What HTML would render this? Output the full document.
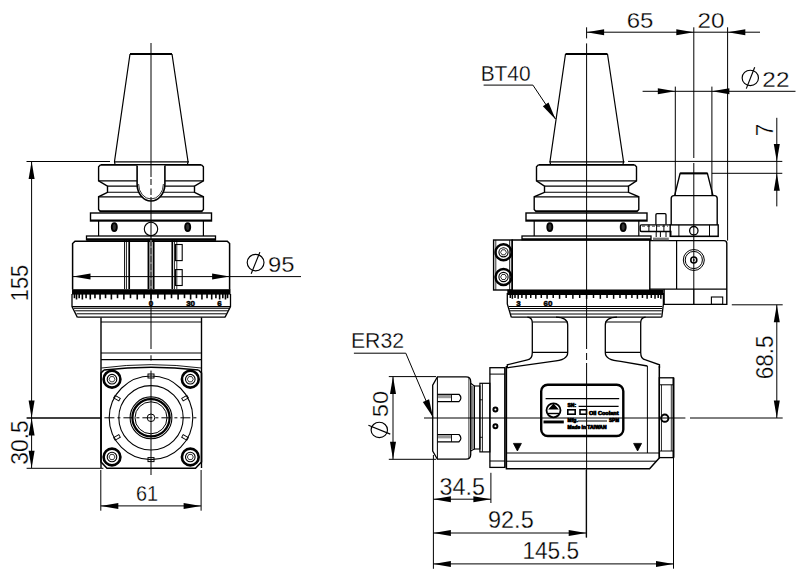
<!DOCTYPE html>
<html><head><meta charset="utf-8"><style>
html,body{margin:0;padding:0;background:#fff;}
svg{display:block;}
text{font-family:"Liberation Sans",sans-serif;fill:#111;stroke:none;}
text.big{fill:#000;stroke:#fff;stroke-width:0.3px;}
text.sm{fill:#000;stroke:#000;stroke-width:0.5px;}
text.lb{fill:#000;stroke:#000;stroke-width:0.7px;}
</style></head><body>
<svg width="807" height="574" viewBox="0 0 807 574" stroke="#000" stroke-linecap="butt">
<rect x="0" y="0" width="807" height="574" fill="#fff" stroke="none"/>
<path d="M130,54 L172,54" stroke-width="2.2" fill="none" />
<polyline points="130.00,54.00 114.50,161.50 115.00,164.50" stroke-width="1.2" fill="none" />
<polyline points="172.00,54.00 188.00,161.50 187.50,164.50" stroke-width="1.2" fill="none" />
<line x1="114.00" y1="161.80" x2="189.00" y2="161.80" stroke-width="1.2" />
<polyline points="100.60,164.80 98.60,166.80 98.60,180.80 107.50,186.10 107.50,192.30 98.60,196.80 98.60,209.50 100.10,211.30" stroke-width="1.4" fill="none" />
<polyline points="201.40,164.80 203.40,166.80 203.40,180.80 194.50,186.10 194.50,192.30 203.40,196.80 203.40,209.50 201.90,211.30" stroke-width="1.4" fill="none" />
<line x1="100.60" y1="164.80" x2="201.40" y2="164.80" stroke-width="1.7" />
<line x1="98.60" y1="180.80" x2="203.40" y2="180.80" stroke-width="1.2" />
<line x1="107.50" y1="186.10" x2="194.50" y2="186.10" stroke-width="1.1" />
<line x1="107.50" y1="192.30" x2="194.50" y2="192.30" stroke-width="1.1" />
<line x1="98.60" y1="196.80" x2="203.40" y2="196.80" stroke-width="1.2" />
<line x1="99.60" y1="211.30" x2="202.40" y2="211.30" stroke-width="2.0" />
<rect x="90.50" y="213.00" width="121.00" height="8.00" rx="0" stroke-width="1.4" fill="none"/>
<line x1="90.50" y1="220.30" x2="211.50" y2="220.30" stroke-width="1.6" />
<line x1="98.60" y1="221.00" x2="98.60" y2="236.00" stroke-width="1.2" />
<line x1="203.40" y1="221.00" x2="203.40" y2="236.00" stroke-width="1.2" />
<ellipse cx="114.30" cy="227.10" rx="2.50" ry="4.00" stroke-width="1.9" fill="#333"/>
<ellipse cx="187.70" cy="227.10" rx="2.50" ry="4.00" stroke-width="1.9" fill="#333"/>
<rect x="86.50" y="236.00" width="129.00" height="3.80" rx="0" stroke-width="1.3" fill="none"/>
<line x1="86.50" y1="239.20" x2="215.50" y2="239.20" stroke-width="1.8" />
<path d="M137.1,165.5 L137.1,184 A13.9,17 0 0 0 164.9,184 L164.9,165.5" stroke-width="1.6" fill="#fff" />
<path d="M138.6,184 A12.4,15 0 0 0 163.4,184" stroke-width="0.8" fill="none" />
<circle cx="151.00" cy="229.00" r="6.70" stroke-width="1.1" fill="none"/>
<path d="M565.5,54 L607.5,54" stroke-width="2.2" fill="none" />
<polyline points="565.50,54.00 550.00,161.50 550.50,164.50" stroke-width="1.2" fill="none" />
<polyline points="607.50,54.00 623.50,161.50 623.00,164.50" stroke-width="1.2" fill="none" />
<line x1="549.50" y1="161.80" x2="624.50" y2="161.80" stroke-width="1.2" />
<polyline points="538.50,164.80 536.50,166.80 536.50,180.80 544.50,186.10 544.50,192.30 534.20,196.80 534.20,209.50 535.70,211.30" stroke-width="1.4" fill="none" />
<polyline points="634.50,164.80 636.50,166.80 636.50,180.80 628.50,186.10 628.50,192.30 638.80,196.80 638.80,209.50 637.30,211.30" stroke-width="1.4" fill="none" />
<line x1="538.50" y1="164.80" x2="634.50" y2="164.80" stroke-width="1.7" />
<line x1="536.50" y1="180.80" x2="636.50" y2="180.80" stroke-width="1.2" />
<line x1="544.50" y1="186.10" x2="628.50" y2="186.10" stroke-width="1.1" />
<line x1="544.50" y1="192.30" x2="628.50" y2="192.30" stroke-width="1.1" />
<line x1="534.20" y1="196.80" x2="638.80" y2="196.80" stroke-width="1.2" />
<line x1="535.20" y1="211.30" x2="637.80" y2="211.30" stroke-width="2.0" />
<rect x="526.00" y="213.00" width="121.00" height="8.00" rx="0" stroke-width="1.4" fill="none"/>
<line x1="526.00" y1="220.30" x2="647.00" y2="220.30" stroke-width="1.6" />
<line x1="534.20" y1="221.00" x2="534.20" y2="236.00" stroke-width="1.2" />
<line x1="638.80" y1="221.00" x2="638.80" y2="236.00" stroke-width="1.2" />
<ellipse cx="549.80" cy="227.10" rx="2.50" ry="4.00" stroke-width="1.9" fill="#333"/>
<ellipse cx="623.20" cy="227.10" rx="2.50" ry="4.00" stroke-width="1.9" fill="#333"/>
<rect x="522.00" y="236.00" width="129.00" height="3.80" rx="0" stroke-width="1.3" fill="none"/>
<line x1="522.00" y1="239.20" x2="651.00" y2="239.20" stroke-width="1.8" />
<line x1="151.00" y1="43.00" x2="151.00" y2="177.00" stroke-width="1" />
<line x1="151.00" y1="179.00" x2="151.00" y2="185.00" stroke-width="1" />
<line x1="151.00" y1="188.50" x2="151.00" y2="195.00" stroke-width="1" />
<line x1="151.00" y1="197.00" x2="151.00" y2="349.00" stroke-width="1" />
<line x1="151.00" y1="355.30" x2="151.00" y2="360.60" stroke-width="1" />
<line x1="151.00" y1="370.60" x2="151.00" y2="475.00" stroke-width="1" />
<path d="M72.6,289.5 L72.6,243.5 L75,241.2 L227.3,241.2 L229.6,243.5 L229.6,289.5" stroke-width="1.5" fill="none" />
<line x1="86.50" y1="240.80" x2="216.00" y2="240.80" stroke-width="1.2" />
<line x1="124.50" y1="240.00" x2="124.50" y2="289.00" stroke-width="0.9" />
<line x1="126.40" y1="240.00" x2="126.40" y2="289.00" stroke-width="0.9" />
<line x1="129.20" y1="240.00" x2="129.20" y2="289.00" stroke-width="1.7" />
<line x1="148.50" y1="240.00" x2="148.50" y2="289.00" stroke-width="1.9" />
<line x1="153.60" y1="240.00" x2="153.60" y2="289.00" stroke-width="1.9" />
<line x1="172.30" y1="240.00" x2="172.30" y2="289.00" stroke-width="1.7" />
<line x1="174.50" y1="240.00" x2="174.50" y2="289.00" stroke-width="0.8" />
<line x1="176.80" y1="240.00" x2="176.80" y2="289.00" stroke-width="0.8" />
<line x1="151" y1="240" x2="151" y2="289" stroke="#555" stroke-width="2" stroke-dasharray="6,2"/>
<rect x="175.50" y="244.50" width="6.70" height="16.10" rx="0" stroke-width="1.1" fill="none"/>
<rect x="175.50" y="269.60" width="6.70" height="15.90" rx="0" stroke-width="1.1" fill="none"/>
<line x1="73.00" y1="276.60" x2="301.00" y2="276.60" stroke-width="1" />
<polygon points="73.00,276.60 90.50,273.60 90.50,279.60" fill="#000" stroke="none"/>
<polygon points="229.60,276.60 212.10,273.60 212.10,279.60" fill="#000" stroke="none"/>
<ellipse cx="255.60" cy="262.60" rx="8.40" ry="8.25" stroke-width="1.15" fill="none"/>
<line x1="259.90" y1="252.10" x2="251.20" y2="273.80" stroke-width="1.15" />
<text x="267.90" y="272.17" font-size="22.88" textLength="26.50" lengthAdjust="spacingAndGlyphs" class="big">95</text>
<rect x="72.00" y="289.20" width="158.50" height="5.40" rx="0" stroke-width="0" fill="#000"/>
<line x1="74.45" y1="293.80" x2="74.45" y2="298.20" stroke-width="1.6" />
<line x1="76.53" y1="293.80" x2="76.53" y2="299.50" stroke-width="1.6" />
<line x1="79.18" y1="293.80" x2="79.18" y2="298.20" stroke-width="1.6" />
<line x1="82.37" y1="293.80" x2="82.37" y2="299.50" stroke-width="1.6" />
<line x1="86.08" y1="293.80" x2="86.08" y2="298.20" stroke-width="1.6" />
<line x1="90.29" y1="293.80" x2="90.29" y2="299.50" stroke-width="1.6" />
<line x1="94.96" y1="293.80" x2="94.96" y2="298.20" stroke-width="1.6" />
<line x1="100.06" y1="293.80" x2="100.06" y2="299.50" stroke-width="1.6" />
<line x1="105.54" y1="293.80" x2="105.54" y2="298.20" stroke-width="1.6" />
<line x1="111.38" y1="293.80" x2="111.38" y2="299.50" stroke-width="1.6" />
<line x1="117.51" y1="293.80" x2="117.51" y2="298.20" stroke-width="1.6" />
<line x1="123.89" y1="293.80" x2="123.89" y2="299.50" stroke-width="1.6" />
<line x1="130.49" y1="293.80" x2="130.49" y2="298.20" stroke-width="1.6" />
<line x1="137.24" y1="293.80" x2="137.24" y2="299.50" stroke-width="1.6" />
<line x1="144.09" y1="293.80" x2="144.09" y2="298.20" stroke-width="1.6" />
<line x1="151.00" y1="293.80" x2="151.00" y2="299.50" stroke-width="1.6" />
<line x1="157.91" y1="293.80" x2="157.91" y2="298.20" stroke-width="1.6" />
<line x1="164.76" y1="293.80" x2="164.76" y2="299.50" stroke-width="1.6" />
<line x1="171.51" y1="293.80" x2="171.51" y2="298.20" stroke-width="1.6" />
<line x1="178.11" y1="293.80" x2="178.11" y2="299.50" stroke-width="1.6" />
<line x1="184.49" y1="293.80" x2="184.49" y2="298.20" stroke-width="1.6" />
<line x1="190.62" y1="293.80" x2="190.62" y2="299.50" stroke-width="1.6" />
<line x1="196.46" y1="293.80" x2="196.46" y2="298.20" stroke-width="1.6" />
<line x1="201.94" y1="293.80" x2="201.94" y2="299.50" stroke-width="1.6" />
<line x1="207.04" y1="293.80" x2="207.04" y2="298.20" stroke-width="1.6" />
<line x1="211.71" y1="293.80" x2="211.71" y2="299.50" stroke-width="1.6" />
<line x1="215.92" y1="293.80" x2="215.92" y2="298.20" stroke-width="1.6" />
<line x1="219.63" y1="293.80" x2="219.63" y2="299.50" stroke-width="1.6" />
<line x1="222.82" y1="293.80" x2="222.82" y2="298.20" stroke-width="1.6" />
<line x1="225.47" y1="293.80" x2="225.47" y2="299.50" stroke-width="1.6" />
<line x1="227.55" y1="293.80" x2="227.55" y2="298.20" stroke-width="1.6" />
<text x="151" y="306.3" font-size="8" text-anchor="middle" font-weight="bold" class="sm">0</text>
<text x="190.6" y="306.3" font-size="8" text-anchor="middle" font-weight="bold" class="sm">30</text>
<text x="219.5" y="306.3" font-size="8" text-anchor="middle" font-weight="bold" class="sm">6</text>
<polyline points="72.00,294.00 72.00,306.60 77.40,317.40" stroke-width="1.3" fill="none" />
<polyline points="230.50,294.00 230.50,306.60 225.00,317.40" stroke-width="1.3" fill="none" />
<line x1="72.00" y1="306.60" x2="230.50" y2="306.60" stroke-width="1.2" />
<line x1="73.85" y1="308.30" x2="229.15" y2="308.30" stroke-width="1.0" />
<line x1="75.10" y1="310.80" x2="227.90" y2="310.80" stroke-width="1.0" />
<line x1="76.60" y1="313.80" x2="226.40" y2="313.80" stroke-width="1.0" />
<line x1="77.40" y1="317.20" x2="225.00" y2="317.20" stroke-width="1.3" />
<line x1="101.00" y1="317.40" x2="101.00" y2="468.00" stroke-width="1.4" />
<line x1="201.50" y1="317.40" x2="201.50" y2="468.00" stroke-width="1.4" />
<line x1="101.00" y1="322.00" x2="201.50" y2="322.00" stroke-width="1.2" />
<line x1="101.00" y1="353.00" x2="201.50" y2="353.00" stroke-width="1.0" />
<line x1="101.00" y1="359.70" x2="201.50" y2="359.70" stroke-width="1.2" />
<path d="M101.4,368 Q151,361.3 201.2,368" stroke-width="0.9" fill="none" />
<path d="M104,370 Q151,364.5 198.5,370" stroke-width="1.6" fill="none" />
<polyline points="104.00,370.00 101.00,373.00 101.00,462.00 107.00,468.30 195.50,468.30 201.50,462.00 201.50,373.00 198.50,370.00" stroke-width="1.6" fill="none" />
<circle cx="112.00" cy="379.20" r="8.40" stroke-width="2.6" fill="none"/>
<circle cx="112.00" cy="379.20" r="4.80" stroke-width="1.1" fill="none"/>
<polygon points="115.00,379.20 113.50,381.80 110.50,381.80 109.00,379.20 110.50,376.60 113.50,376.60" stroke-width="0.8" fill="none" />
<circle cx="190.30" cy="379.20" r="8.40" stroke-width="2.6" fill="none"/>
<circle cx="190.30" cy="379.20" r="4.80" stroke-width="1.1" fill="none"/>
<polygon points="193.30,379.20 191.80,381.80 188.80,381.80 187.30,379.20 188.80,376.60 191.80,376.60" stroke-width="0.8" fill="none" />
<circle cx="112.00" cy="457.00" r="8.40" stroke-width="2.6" fill="none"/>
<circle cx="112.00" cy="457.00" r="4.80" stroke-width="1.1" fill="none"/>
<polygon points="115.00,457.00 113.50,459.60 110.50,459.60 109.00,457.00 110.50,454.40 113.50,454.40" stroke-width="0.8" fill="none" />
<circle cx="190.30" cy="457.00" r="8.40" stroke-width="2.6" fill="none"/>
<circle cx="190.30" cy="457.00" r="4.80" stroke-width="1.1" fill="none"/>
<polygon points="193.30,457.00 191.80,459.60 188.80,459.60 187.30,457.00 188.80,454.40 191.80,454.40" stroke-width="0.8" fill="none" />
<circle cx="151.00" cy="417.80" r="41.80" stroke-width="1.1" fill="none"/>
<circle cx="151.00" cy="417.80" r="32.20" stroke-width="1.1" fill="none"/>
<circle cx="151.00" cy="417.80" r="20.90" stroke-width="1.1" fill="none"/>
<circle cx="151.00" cy="417.80" r="18.60" stroke-width="2.2" fill="none"/>
<circle cx="151.00" cy="417.80" r="16.00" stroke-width="1.0" fill="none"/>
<circle cx="151.00" cy="417.80" r="3.80" stroke-width="1.0" fill="none"/>
<rect x="148.00" y="374.00" width="6.00" height="4.00" rx="0" stroke-width="1.0" fill="none"/>
<rect x="148.00" y="457.60" width="6.00" height="4.00" rx="0" stroke-width="1.0" fill="none"/>
<rect x="183.53" y="395.15" width="3" height="6" stroke-width="0.9" fill="none" transform="rotate(240.0 185.03 398.15)"/>
<rect x="115.47" y="395.15" width="3" height="6" stroke-width="0.9" fill="none" transform="rotate(120.0 116.97 398.15)"/>
<rect x="115.47" y="434.45" width="3" height="6" stroke-width="0.9" fill="none" transform="rotate(60.0 116.97 437.45)"/>
<rect x="183.53" y="434.45" width="3" height="6" stroke-width="0.9" fill="none" transform="rotate(-60.0 185.03 437.45)"/>
<line x1="104.40" y1="417.80" x2="197.50" y2="417.80" stroke-width="1" stroke-dasharray="10,3,3,3"/>
<line x1="26.50" y1="161.50" x2="110.00" y2="161.50" stroke-width="1" />
<line x1="31.60" y1="161.50" x2="31.60" y2="468.00" stroke-width="1" />
<polygon points="31.60,161.50 28.60,179.00 34.60,179.00" fill="#000" stroke="none"/>
<polygon points="31.60,418.00 28.60,400.50 34.60,400.50" fill="#000" stroke="none"/>
<text x="27.86" y="301.15" font-size="24.07" textLength="36.17" lengthAdjust="spacingAndGlyphs" class="big" transform="rotate(-90 27.86 301.15)">155</text>
<line x1="26.60" y1="418.00" x2="101.00" y2="418.00" stroke-width="1.6" />
<polygon points="31.60,418.00 28.60,435.50 34.60,435.50" fill="#000" stroke="none"/>
<polygon points="31.60,468.30 28.60,450.80 34.60,450.80" fill="#000" stroke="none"/>
<line x1="26.60" y1="468.30" x2="103.40" y2="468.30" stroke-width="1" />
<text x="27.76" y="464.77" font-size="23.73" textLength="44.54" lengthAdjust="spacingAndGlyphs" class="big" transform="rotate(-90 27.76 464.77)">30.5</text>
<line x1="100.80" y1="470.00" x2="100.80" y2="510.70" stroke-width="1" />
<line x1="201.10" y1="470.00" x2="201.10" y2="510.70" stroke-width="1" />
<line x1="100.80" y1="505.90" x2="201.10" y2="505.90" stroke-width="1" />
<polygon points="100.80,505.90 118.30,502.90 118.30,508.90" fill="#000" stroke="none"/>
<polygon points="201.10,505.90 183.60,502.90 183.60,508.90" fill="#000" stroke="none"/>
<text x="136.06" y="501.27" font-size="22.88" textLength="22.10" lengthAdjust="spacingAndGlyphs" class="big">61</text>
<line x1="586.60" y1="27.30" x2="586.60" y2="38.40" stroke-width="1" />
<line x1="586.60" y1="43.40" x2="586.60" y2="349.00" stroke-width="1" />
<line x1="586.60" y1="353.00" x2="586.60" y2="360.00" stroke-width="1" />
<line x1="586.60" y1="363.00" x2="586.60" y2="537.50" stroke-width="1" />
<path d="M512.2,290 L512.2,240 L649.8,240 L649.8,290" stroke-width="1.4" fill="none" />
<rect x="493.60" y="240.00" width="18.60" height="50.00" rx="0" stroke-width="1.4" fill="none"/>
<line x1="509.70" y1="240.00" x2="509.70" y2="290.00" stroke-width="0.9" />
<line x1="495.80" y1="240.00" x2="495.80" y2="290.00" stroke-width="0.8" />
<circle cx="503.50" cy="252.30" r="8.00" stroke-width="2.4" fill="none"/>
<circle cx="503.50" cy="252.30" r="4.60" stroke-width="1.1" fill="none"/>
<polygon points="506.40,252.30 504.95,254.81 502.05,254.81 500.60,252.30 502.05,249.79 504.95,249.79" stroke-width="0.8" fill="none" />
<circle cx="503.50" cy="277.00" r="8.00" stroke-width="2.4" fill="none"/>
<circle cx="503.50" cy="277.00" r="4.60" stroke-width="1.1" fill="none"/>
<polygon points="506.40,277.00 504.95,279.51 502.05,279.51 500.60,277.00 502.05,274.49 504.95,274.49" stroke-width="0.8" fill="none" />
<path d="M649.8,240.6 L724,240.6 Q726.8,240.6 726.8,243.4 L726.8,304.4 L664.1,304.4 L664.1,289.1" stroke-width="1.4" fill="none" />
<line x1="676.60" y1="240.60" x2="676.60" y2="289.10" stroke-width="1.2" />
<line x1="649.80" y1="289.10" x2="726.80" y2="289.10" stroke-width="1.2" />
<circle cx="693.80" cy="260.00" r="10.50" stroke-width="1.0" fill="none"/>
<circle cx="693.80" cy="260.00" r="8.60" stroke-width="1.0" fill="none"/>
<circle cx="693.80" cy="260.00" r="3.00" stroke-width="1.6" fill="none"/>
<circle cx="693.80" cy="260.00" r="1.00" stroke-width="0" fill="#333"/>
<rect x="711.40" y="297.00" width="11.30" height="7.40" rx="0" stroke-width="1.1" fill="none"/>
<line x1="693.80" y1="289.10" x2="693.80" y2="304.40" stroke-width="1" />
<rect x="670.20" y="224.90" width="48.00" height="11.50" rx="0" stroke-width="1.4" fill="none"/>
<line x1="678.90" y1="224.90" x2="678.90" y2="236.40" stroke-width="1" />
<line x1="709.50" y1="224.90" x2="709.50" y2="236.40" stroke-width="1" />
<circle cx="693.80" cy="230.70" r="4.20" stroke-width="1.3" fill="none"/>
<path d="M671.2,224.9 L671.2,198.5 Q671.2,195.6 674,195.6 L714.4,195.6 Q717.2,195.6 717.2,198.5 L717.2,224.9" stroke-width="1.4" fill="none" />
<path d="M674.6,195.6 L680.1,173.4 L707.4,173.4 L713,195.6" stroke-width="1.4" fill="none" />
<line x1="680.10" y1="173.40" x2="707.40" y2="173.40" stroke-width="2.0" />
<line x1="670.20" y1="236.40" x2="718.20" y2="236.40" stroke-width="1.4" />
<path d="M655.9,224.5 L655.9,214.7 Q655.9,213.7 657,213.7 L665,213.7 Q666,213.7 666,214.7 L666,224.5" stroke-width="1.3" fill="none" />
<path d="M670.8,224.9 L641.5,224.9 Q640.2,224.9 640.2,226.5 L640.2,230 Q640.2,231.5 641.5,231.5 L670.8,231.5 L670.8,235.7" stroke-width="1.4" fill="none" />
<line x1="648.90" y1="224.90" x2="648.90" y2="231.50" stroke-width="1.0" />
<line x1="656.60" y1="224.90" x2="656.60" y2="231.50" stroke-width="1.0" />
<line x1="663.90" y1="224.90" x2="663.90" y2="231.50" stroke-width="1.0" />
<line x1="642.00" y1="226.20" x2="668.00" y2="226.20" stroke-width="0.7" stroke-dasharray="3,2"/>
<line x1="656.20" y1="231.50" x2="656.20" y2="237.00" stroke-width="1.0" />
<line x1="660.40" y1="231.50" x2="660.40" y2="237.00" stroke-width="1.0" />
<line x1="666.00" y1="231.50" x2="666.00" y2="237.00" stroke-width="1.0" />
<rect x="653" y="237.6" width="15.8" height="2.6" fill="#777" stroke="none"/>
<rect x="507.30" y="289.50" width="156.10" height="5.50" rx="0" stroke-width="0" fill="#000"/>
<line x1="510.29" y1="295.00" x2="510.29" y2="298.00" stroke-width="1.5" />
<line x1="512.36" y1="295.00" x2="512.36" y2="298.80" stroke-width="1.5" />
<line x1="515.00" y1="295.00" x2="515.00" y2="298.00" stroke-width="1.5" />
<line x1="518.18" y1="295.00" x2="518.18" y2="298.80" stroke-width="1.5" />
<line x1="521.89" y1="295.00" x2="521.89" y2="298.00" stroke-width="1.5" />
<line x1="526.08" y1="295.00" x2="526.08" y2="298.80" stroke-width="1.5" />
<line x1="530.74" y1="295.00" x2="530.74" y2="298.00" stroke-width="1.5" />
<line x1="535.82" y1="295.00" x2="535.82" y2="298.80" stroke-width="1.5" />
<line x1="541.29" y1="295.00" x2="541.29" y2="298.00" stroke-width="1.5" />
<line x1="547.10" y1="295.00" x2="547.10" y2="298.80" stroke-width="1.5" />
<line x1="553.21" y1="295.00" x2="553.21" y2="298.00" stroke-width="1.5" />
<line x1="559.58" y1="295.00" x2="559.58" y2="298.80" stroke-width="1.5" />
<line x1="566.15" y1="295.00" x2="566.15" y2="298.00" stroke-width="1.5" />
<line x1="572.88" y1="295.00" x2="572.88" y2="298.80" stroke-width="1.5" />
<line x1="579.71" y1="295.00" x2="579.71" y2="298.00" stroke-width="1.5" />
<line x1="586.60" y1="295.00" x2="586.60" y2="298.80" stroke-width="1.5" />
<line x1="593.49" y1="295.00" x2="593.49" y2="298.00" stroke-width="1.5" />
<line x1="600.32" y1="295.00" x2="600.32" y2="298.80" stroke-width="1.5" />
<line x1="607.05" y1="295.00" x2="607.05" y2="298.00" stroke-width="1.5" />
<line x1="613.62" y1="295.00" x2="613.62" y2="298.80" stroke-width="1.5" />
<line x1="619.99" y1="295.00" x2="619.99" y2="298.00" stroke-width="1.5" />
<line x1="626.10" y1="295.00" x2="626.10" y2="298.80" stroke-width="1.5" />
<line x1="631.91" y1="295.00" x2="631.91" y2="298.00" stroke-width="1.5" />
<line x1="637.38" y1="295.00" x2="637.38" y2="298.80" stroke-width="1.5" />
<line x1="642.46" y1="295.00" x2="642.46" y2="298.00" stroke-width="1.5" />
<line x1="647.12" y1="295.00" x2="647.12" y2="298.80" stroke-width="1.5" />
<line x1="651.31" y1="295.00" x2="651.31" y2="298.00" stroke-width="1.5" />
<line x1="655.02" y1="295.00" x2="655.02" y2="298.80" stroke-width="1.5" />
<line x1="658.20" y1="295.00" x2="658.20" y2="298.00" stroke-width="1.5" />
<line x1="660.84" y1="295.00" x2="660.84" y2="298.80" stroke-width="1.5" />
<text x="518.6" y="306.3" font-size="8" text-anchor="middle" font-weight="bold" class="sm">3</text>
<text x="548" y="306.3" font-size="8" text-anchor="middle" font-weight="bold" class="sm">60</text>
<polyline points="507.30,293.00 507.30,304.00 511.30,317.20" stroke-width="1.3" fill="none" />
<polyline points="663.40,293.00 663.40,304.00 661.80,317.20" stroke-width="1.3" fill="none" />
<line x1="508.75" y1="306.50" x2="662.25" y2="306.50" stroke-width="1.0" />
<line x1="509.35" y1="308.50" x2="662.05" y2="308.50" stroke-width="1.0" />
<line x1="510.04" y1="310.80" x2="661.82" y2="310.80" stroke-width="1.0" />
<line x1="511.00" y1="314.00" x2="661.50" y2="314.00" stroke-width="1.0" />
<line x1="511.30" y1="317.20" x2="661.80" y2="317.20" stroke-width="1.3" />
<path d="M527.4,317.2 Q532.3,317.5 532.3,323 L532.3,352.6 Q532.3,359.5 527.4,359.9 L507.3,364.8 L507.3,368" stroke-width="1.3" fill="none" />
<path d="M556,317.2 Q567.7,317.5 567.7,325 L567.7,352.6 Q567.7,360.5 552.4,361.3 L507.3,367.8" stroke-width="1.3" fill="none" />
<line x1="532.30" y1="322.00" x2="567.70" y2="322.00" stroke-width="1.1" />
<line x1="532.30" y1="352.40" x2="567.70" y2="352.40" stroke-width="1.1" />
<path d="M645.6,317.2 Q640.7,317.5 640.7,323 L640.7,352.6 Q640.7,359.5 645.6,359.9 L659.5,364.8 L659.5,368" stroke-width="1.3" fill="none" />
<path d="M617,317.2 Q605.3,317.5 605.3,325 L605.3,352.6 Q605.3,360.5 620.6,361.3 L647.4,366" stroke-width="1.3" fill="none" />
<line x1="605.30" y1="322.00" x2="640.70" y2="322.00" stroke-width="1.1" />
<line x1="605.30" y1="352.40" x2="640.70" y2="352.40" stroke-width="1.1" />
<path d="M506.4,366 L506.4,468.8 L649.6,468.8 L659.3,458 L659.3,366" stroke-width="1.5" fill="none" />
<line x1="647.40" y1="366.00" x2="647.40" y2="453.00" stroke-width="1.0" />
<line x1="506.40" y1="453.00" x2="659.30" y2="453.00" stroke-width="1.1" />
<line x1="506.40" y1="461.20" x2="656.50" y2="461.20" stroke-width="1.0" />
<line x1="504.90" y1="367.70" x2="504.90" y2="467.40" stroke-width="1.0" />
<rect x="489.90" y="367.70" width="15.00" height="99.70" rx="0" stroke-width="1.3" fill="none"/>
<line x1="489.90" y1="374.10" x2="504.90" y2="374.10" stroke-width="1.0" />
<line x1="489.90" y1="461.00" x2="504.90" y2="461.00" stroke-width="1.0" />
<circle cx="495.40" cy="409.40" r="2.00" stroke-width="2.0" fill="none"/>
<circle cx="495.40" cy="426.30" r="2.00" stroke-width="2.0" fill="none"/>
<rect x="479.90" y="383.30" width="10.00" height="68.60" rx="0" stroke-width="1.2" fill="none"/>
<line x1="482.40" y1="383.30" x2="482.40" y2="451.90" stroke-width="0.9" />
<line x1="479.90" y1="399.80" x2="482.40" y2="399.80" stroke-width="0.9" />
<line x1="479.90" y1="437.30" x2="482.40" y2="437.30" stroke-width="0.9" />
<rect x="474.40" y="386.00" width="5.50" height="63.00" rx="0" stroke-width="1.1" fill="none"/>
<path d="M470.7,383.3 L474.4,386 L474.4,449 L470.7,451" stroke-width="1.1" fill="none" />
<rect x="471.2" y="386" width="2.6" height="63" fill="#888" stroke="none"/>
<path d="M437.4,376.9 L466,376.9 Q470.7,376.9 470.7,381.5 L470.7,454.6 Q470.7,459.2 466,459.2 L437.4,459.2 L432.7,451 L432.7,385.1 Z" stroke-width="1.3" fill="none" />
<line x1="437.40" y1="376.90" x2="437.40" y2="459.20" stroke-width="1.0" />
<line x1="468.90" y1="378.00" x2="468.90" y2="458.00" stroke-width="0.8" />
<path d="M437.4,394.3 L459,394.3 Q462.8,397.95000000000005 459,401.6 L437.4,401.6" stroke-width="1.2" fill="none" />
<rect x="438" y="394.90000000000003" width="13" height="3.29" fill="#999" stroke="none"/>
<line x1="451.50" y1="394.30" x2="451.50" y2="401.60" stroke-width="0.9" />
<path d="M437.4,434.5 L459,434.5 Q462.8,438.15 459,441.8 L437.4,441.8" stroke-width="1.2" fill="none" />
<rect x="438" y="435.1" width="13" height="3.29" fill="#999" stroke="none"/>
<line x1="451.50" y1="434.50" x2="451.50" y2="441.80" stroke-width="0.9" />
<rect x="659.30" y="377.80" width="14.20" height="79.80" rx="0" stroke-width="1.3" fill="none"/>
<line x1="673.50" y1="377.80" x2="673.50" y2="457.60" stroke-width="1.8" />
<line x1="659.30" y1="384.80" x2="673.50" y2="384.80" stroke-width="1.0" />
<line x1="659.30" y1="451.00" x2="673.50" y2="451.00" stroke-width="1.0" />
<line x1="661.50" y1="384.80" x2="661.50" y2="451.00" stroke-width="0.8" />
<line x1="671.30" y1="384.80" x2="671.30" y2="451.00" stroke-width="0.8" />
<circle cx="664.80" cy="418.20" r="3.60" stroke-width="2.0" fill="none"/>
<polygon points="513.4,443.4 521.4,443.4 517.4,451" fill="#000" stroke-width="0.8" stroke-linejoin="round"/>
<polygon points="633.6,443.4 641.6,443.4 637.6,451" fill="#000" stroke-width="0.8" stroke-linejoin="round"/>
<rect x="541.20" y="384.80" width="82.10" height="51.20" rx="6.5" stroke-width="2.4" fill="none"/>
<line x1="545.60" y1="398.60" x2="619.20" y2="398.60" stroke-width="1.3" />
<circle cx="553.50" cy="410.30" r="7.00" stroke-width="1.8" fill="none"/>
<path d="M549.5,409 L553.5,404.5 L557.5,409 Z" stroke-width="1.2" fill="#000" />
<line x1="548.00" y1="413.50" x2="559.00" y2="413.50" stroke-width="1.4" />
<rect x="543.50" y="420.50" width="20.30" height="2.90" rx="0" stroke-width="0" fill="#000"/>
<text x="567.5" y="406.5" font-size="5" text-anchor="start" font-weight="bold" class="lb">SN:</text>
<line x1="578.60" y1="406.40" x2="618.60" y2="406.40" stroke-width="1.2" />
<rect x="567.80" y="409.80" width="7.40" height="4.40" rx="0" stroke-width="1.6" fill="none"/>
<rect x="580.00" y="409.80" width="6.50" height="4.40" rx="0" stroke-width="1.6" fill="none"/>
<text x="589" y="414.6" font-size="5" text-anchor="start" font-weight="bold" textLength="29.6" lengthAdjust="spacingAndGlyphs" class="lb">Oil Coolant</text>
<text x="567.5" y="421.5" font-size="5" text-anchor="start" font-weight="bold" class="lb">Mfg.</text>
<line x1="578.00" y1="421.00" x2="607.00" y2="421.00" stroke-width="1.0" />
<text x="609" y="421.5" font-size="5" text-anchor="start" font-weight="bold" textLength="10" lengthAdjust="spacingAndGlyphs" class="lb">SPM</text>
<text x="567.5" y="428.5" font-size="5" text-anchor="start" font-weight="bold" textLength="39" lengthAdjust="spacingAndGlyphs" class="lb">Made in TAIWAN</text>
<line x1="424.00" y1="418.00" x2="685.40" y2="418.00" stroke-width="1" />
<line x1="690.00" y1="418.00" x2="782.70" y2="418.00" stroke-width="1" />
<line x1="586.60" y1="32.20" x2="760.00" y2="32.20" stroke-width="1" />
<polygon points="586.60,32.20 604.10,29.20 604.10,35.20" fill="#000" stroke="none"/>
<polygon points="693.80,32.20 676.30,29.20 676.30,35.20" fill="#000" stroke="none"/>
<polygon points="727.80,32.20 745.30,29.20 745.30,35.20" fill="#000" stroke="none"/>
<line x1="693.80" y1="27.30" x2="693.80" y2="158.00" stroke-width="1" />
<line x1="693.80" y1="163.00" x2="693.80" y2="304.40" stroke-width="1" />
<line x1="727.60" y1="27.30" x2="727.60" y2="240.60" stroke-width="1" />
<text x="626.70" y="27.67" font-size="22.74" textLength="26.72" lengthAdjust="spacingAndGlyphs" class="big">65</text>
<text x="697.59" y="27.67" font-size="22.74" textLength="26.94" lengthAdjust="spacingAndGlyphs" class="big">20</text>
<line x1="642.60" y1="91.30" x2="795.50" y2="91.30" stroke-width="1" />
<polygon points="675.30,91.30 657.80,88.30 657.80,94.30" fill="#000" stroke="none"/>
<polygon points="711.90,91.30 729.40,88.30 729.40,94.30" fill="#000" stroke="none"/>
<line x1="675.30" y1="86.60" x2="675.30" y2="195.00" stroke-width="1" />
<line x1="711.90" y1="86.60" x2="711.90" y2="195.00" stroke-width="1" />
<ellipse cx="750.30" cy="77.90" rx="8.15" ry="7.70" stroke-width="1.15" fill="none"/>
<line x1="754.70" y1="67.20" x2="746.30" y2="88.60" stroke-width="1.15" />
<text x="762.38" y="86.60" font-size="22.49" textLength="27.04" lengthAdjust="spacingAndGlyphs" class="big">22</text>
<line x1="628.00" y1="161.40" x2="782.30" y2="161.40" stroke-width="1" />
<line x1="711.90" y1="173.30" x2="782.30" y2="173.30" stroke-width="1" />
<line x1="776.80" y1="117.80" x2="776.80" y2="206.40" stroke-width="1" />
<polygon points="776.80,161.40 773.80,143.90 779.80,143.90" fill="#000" stroke="none"/>
<polygon points="776.80,173.30 773.80,190.80 779.80,190.80" fill="#000" stroke="none"/>
<text x="772.70" y="136.27" font-size="24.27" textLength="12.50" lengthAdjust="spacingAndGlyphs" class="big" transform="rotate(-90 772.70 136.27)">7</text>
<line x1="731.80" y1="304.80" x2="782.70" y2="304.80" stroke-width="1" />
<line x1="776.80" y1="304.80" x2="776.80" y2="418.00" stroke-width="1" />
<polygon points="776.80,304.80 773.80,322.30 779.80,322.30" fill="#000" stroke="none"/>
<polygon points="776.80,418.00 773.80,400.50 779.80,400.50" fill="#000" stroke="none"/>
<text x="772.96" y="379.33" font-size="24.01" textLength="43.99" lengthAdjust="spacingAndGlyphs" class="big" transform="rotate(-90 772.96 379.33)">68.5</text>
<text x="480.69" y="80.78" font-size="22.46" textLength="49.91" lengthAdjust="spacingAndGlyphs" class="big">BT40</text>
<polyline points="483.60,85.10 532.90,85.10 555.60,119.00" stroke-width="1" fill="none" />
<polygon points="555.60,119.50 548.52,102.60 542.85,106.35" fill="#000" stroke="none"/>
<text x="350.96" y="348.17" font-size="22.88" textLength="53.09" lengthAdjust="spacingAndGlyphs" class="big">ER32</text>
<polyline points="353.90,353.20 405.80,353.20 433.00,417.20" stroke-width="1" fill="none" />
<polygon points="433.00,417.20 429.09,399.30 422.83,401.96" fill="#000" stroke="none"/>
<line x1="388.80" y1="376.60" x2="436.00" y2="376.60" stroke-width="1" />
<line x1="388.80" y1="459.30" x2="436.00" y2="459.30" stroke-width="1" />
<line x1="393.00" y1="376.60" x2="393.00" y2="459.30" stroke-width="1" />
<polygon points="393.00,376.60 390.00,394.10 396.00,394.10" fill="#000" stroke="none"/>
<polygon points="393.00,459.30 390.00,441.80 396.00,441.80" fill="#000" stroke="none"/>
<ellipse cx="379.30" cy="429.90" rx="8.20" ry="7.65" stroke-width="1.15" fill="none"/>
<line x1="368.40" y1="425.20" x2="390.30" y2="434.10" stroke-width="1.15" />
<text x="387.97" y="417.25" font-size="22.88" textLength="26.36" lengthAdjust="spacingAndGlyphs" class="big" transform="rotate(-90 387.97 417.25)">50</text>
<line x1="433.40" y1="455.00" x2="433.40" y2="568.80" stroke-width="1" />
<line x1="490.90" y1="472.80" x2="490.90" y2="503.00" stroke-width="1" />
<line x1="433.40" y1="499.20" x2="490.90" y2="499.20" stroke-width="1" />
<polygon points="433.40,499.20 450.90,496.20 450.90,502.20" fill="#000" stroke="none"/>
<polygon points="490.90,499.20 473.40,496.20 473.40,502.20" fill="#000" stroke="none"/>
<text x="439.51" y="495.07" font-size="23.16" textLength="45.37" lengthAdjust="spacingAndGlyphs" class="big">34.5</text>
<line x1="586.20" y1="470.00" x2="586.20" y2="537.50" stroke-width="1" />
<line x1="433.40" y1="533.00" x2="586.20" y2="533.00" stroke-width="1" />
<polygon points="433.40,533.00 450.90,530.00 450.90,536.00" fill="#000" stroke="none"/>
<polygon points="586.20,533.00 568.70,530.00 568.70,536.00" fill="#000" stroke="none"/>
<text x="488.02" y="528.27" font-size="23.02" textLength="45.67" lengthAdjust="spacingAndGlyphs" class="big">92.5</text>
<line x1="673.50" y1="457.60" x2="673.50" y2="568.70" stroke-width="1" />
<line x1="433.40" y1="563.90" x2="673.50" y2="563.90" stroke-width="1" />
<polygon points="433.40,563.90 450.90,560.90 450.90,566.90" fill="#000" stroke="none"/>
<polygon points="673.50,563.90 656.00,560.90 656.00,566.90" fill="#000" stroke="none"/>
<text x="522.38" y="559.47" font-size="23.07" textLength="56.68" lengthAdjust="spacingAndGlyphs" class="big">145.5</text>
</svg>
</body></html>
